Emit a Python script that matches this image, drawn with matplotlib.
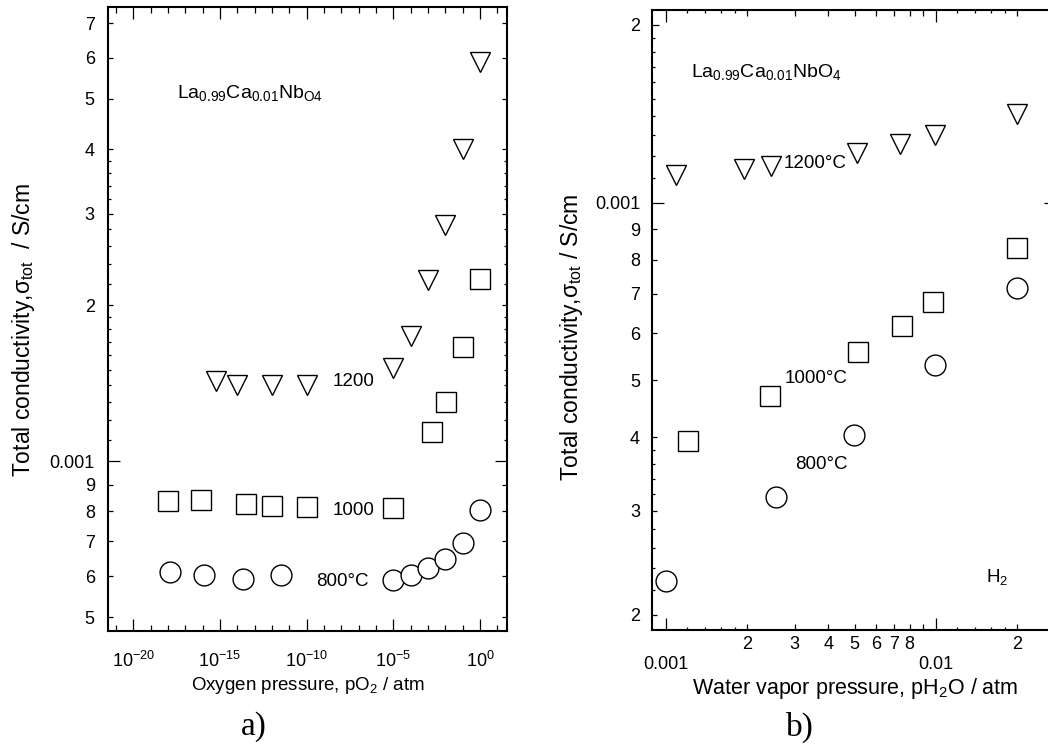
import matplotlib
matplotlib.use('Agg')
import matplotlib.pyplot as plt
from matplotlib.ticker import FixedLocator, FixedFormatter

plt.rcParams['font.family'] = ['Liberation Sans', 'DejaVu Sans']
plt.rcParams['mathtext.fontset'] = 'custom'
plt.rcParams['mathtext.rm'] = 'Liberation Sans'
plt.rcParams['mathtext.default'] = 'regular'
plt.rcParams['axes.unicode_minus'] = False

# ---- panel a: conductivity vs oxygen pressure ----
po2_1200 = [6.3e-16, 1e-14, 1e-12, 1e-10, 1e-5, 1e-4, 1e-3, 1e-2, 1e-1, 1.0]
sig_1200 = [1.43e-3, 1.40e-3, 1.40e-3, 1.40e-3, 1.51e-3, 1.74e-3, 2.24e-3, 2.86e-3, 4.0e-3, 5.88e-3]
po2_1000 = [1e-18, 7.9e-17, 3.2e-14, 1e-12, 1e-10, 1e-5, 1.7e-3, 1.1e-2, 1e-1, 1.0]
sig_1000 = [8.38e-4, 8.41e-4, 8.27e-4, 8.20e-4, 8.15e-4, 8.10e-4, 1.137e-3, 1.30e-3, 1.66e-3, 2.25e-3]
po2_800 = [1.26e-18, 1.26e-16, 2.0e-14, 3.2e-12, 1e-5, 1e-4, 1e-3, 1e-2, 1e-1, 1.0]
sig_800 = [6.10e-4, 6.03e-4, 5.93e-4, 6.02e-4, 5.89e-4, 6.04e-4, 6.22e-4, 6.46e-4, 6.94e-4, 8.04e-4]

# ---- panel b: conductivity vs water vapour pressure ----
ph2o_1200 = [1.09e-3, 1.94e-3, 2.46e-3, 5.1e-3, 7.4e-3, 9.9e-3, 2.0e-2]
sigw_1200 = [1.115e-3, 1.14e-3, 1.155e-3, 1.215e-3, 1.255e-3, 1.30e-3, 1.413e-3]
ph2o_1000 = [1.21e-3, 2.43e-3, 5.16e-3, 7.48e-3, 9.8e-3, 2.01e-2]
sigw_1000 = [3.94e-4, 4.70e-4, 5.59e-4, 6.18e-4, 6.79e-4, 8.36e-4]
ph2o_800 = [1.0e-3, 2.55e-3, 4.98e-3, 9.94e-3, 2.0e-2]
sigw_800 = [2.28e-4, 3.17e-4, 4.04e-4, 5.30e-4, 7.15e-4]

# tick layouts
a_xmajor = [1e-20, 1e-15, 1e-10, 1e-5, 1.0]
a_xlabels = ['$10^{-20}$', '$10^{-15}$', '$10^{-10}$', '$10^{-5}$', '$10^{0}$']
a_xminor = [10.0 ** k for k in range(-21, 2) if k % 5]
a_ymajor = [5e-4, 6e-4, 7e-4, 8e-4, 9e-4, 1e-3, 2e-3, 3e-3, 4e-3, 5e-3, 6e-3, 7e-3]
a_ylabels = ['5', '6', '7', '8', '9', '0.001', '2', '3', '4', '5', '6', '7']
b_ymajor = [2e-4, 3e-4, 4e-4, 5e-4, 6e-4, 7e-4, 8e-4, 9e-4, 1e-3, 2e-3]
b_ylabels = ['2', '3', '4', '5', '6', '7', '8', '9', '0.001', '2']
y_short = ([1e-3 + 1e-4 * i for i in range(1, 10)]
           + [2.2e-3, 2.4e-3, 2.6e-3, 2.8e-3, 3.2e-3, 3.4e-3, 3.6e-3, 3.8e-3])
b_yshort = ([1e-3 + 1e-4 * i for i in range(1, 10)]
            + [2.2e-4, 2.4e-4, 2.6e-4, 2.8e-4, 3.2e-4, 3.4e-4, 3.6e-4, 3.8e-4])
b_xmajor = [1e-3, 1e-2]
b_xmajor_labels = ['0.001', '0.01']
b_xminor = [2e-3, 3e-3, 4e-3, 5e-3, 6e-3, 7e-3, 8e-3, 9e-3, 2e-2]
b_xminor_labels = ['2', '3', '4', '5', '6', '7', '8', '', '2']
b_xshort = [1.2e-3, 1.4e-3, 1.6e-3, 1.8e-3, 1.2e-2, 1.4e-2, 1.6e-2, 1.8e-2]

mk = dict(linestyle='none', markersize=15, markerfacecolor='white',
          markeredgecolor='black', markeredgewidth=1.0)


def tick_len(ticks, locs, wanted, length):
    for t, loc in zip(ticks, locs):
        if any(abs(loc - w) / w < 1e-6 for w in wanted):
            t.tick1line.set_markersize(length)
            t.tick2line.set_markersize(length)


fig = plt.figure(figsize=(10.48, 7.45), dpi=100)
W, H = 1048.0, 745.0
ax1 = fig.add_axes([108 / W, 1 - 631 / H, 399 / W, 624 / H])
ax2 = fig.add_axes([652.3 / W, 1 - 630 / H, 403.7 / W, 620 / H])

for ax in (ax1, ax2):
    ax.set_xscale('log')
    ax.set_yscale('log')
    for s in ax.spines.values():
        s.set_linewidth(1.5)

# panel a
ax1.plot(po2_800, sig_800, marker='o', **mk)
ax1.plot(po2_1000, sig_1000, marker='s', **mk)
ax1.plot(po2_1200, sig_1200, marker='v', **mk)
ax1.set_xlim(10 ** -21.46, 10 ** 1.56)
ax1.set_ylim(4.70e-4, 7.52e-3)

ax1.xaxis.set_major_locator(FixedLocator(a_xmajor))
ax1.xaxis.set_major_formatter(FixedFormatter(a_xlabels))
ax1.xaxis.set_minor_locator(FixedLocator(a_xminor))
ax1.xaxis.set_minor_formatter(FixedFormatter([''] * len(a_xminor)))
ax1.yaxis.set_major_locator(FixedLocator(a_ymajor))
ax1.yaxis.set_major_formatter(FixedFormatter(a_ylabels))
ax1.yaxis.set_minor_locator(FixedLocator(y_short))
ax1.yaxis.set_minor_formatter(FixedFormatter([''] * len(y_short)))

ax1.tick_params(which='both', direction='in', top=True, right=True, width=0.9, labelsize=13)
ax1.tick_params(axis='x', which='major', length=8.6, pad=14)
ax1.tick_params(axis='x', which='minor', length=4.3)
ax1.tick_params(axis='y', which='major', length=3.8, pad=9.5)
ax1.tick_params(axis='y', which='minor', length=2.2)
tick_len(ax1.yaxis.get_major_ticks(), ax1.yaxis.get_majorticklocs(), [1e-3], 8.6)

ax1.set_xlabel('Oxygen pressure, pO$_2$ / atm', fontsize=13.5, va='center')
ax1.xaxis.set_label_coords(0.5, -0.088)
ax1.set_ylabel('Total conductivity,σ$_{tot}$  / S/cm', fontsize=16.5, va='center')
ax1.yaxis.set_label_coords(-0.213, 0.482)

ax1.text(0.173, 0.854, 'La$_{0.99}$Ca$_{0.01}$Nb$_{O4}$', transform=ax1.transAxes,
         fontsize=14, va='baseline')
ax1.text(0.564, 0.393, '1200', transform=ax1.transAxes, fontsize=13.5, va='baseline')
ax1.text(0.564, 0.186, '1000', transform=ax1.transAxes, fontsize=13.5, va='baseline')
ax1.text(0.521, 0.072, '800°C', transform=ax1.transAxes, fontsize=13.5, va='baseline')

# panel b
ax2.plot(ph2o_800, sigw_800, marker='o', **mk)
ax2.plot(ph2o_1000, sigw_1000, marker='s', **mk)
ax2.plot(ph2o_1200, sigw_1200, marker='v', **mk)
ax2.set_xlim(10 ** -3.0508, 10 ** -1.554)
ax2.set_ylim(1.885e-4, 2.12e-3)

b_xminor_all = b_xminor + b_xshort
ax2.xaxis.set_major_locator(FixedLocator(b_xmajor))
ax2.xaxis.set_major_formatter(FixedFormatter(b_xmajor_labels))
ax2.xaxis.set_minor_locator(FixedLocator(b_xminor_all))
ax2.xaxis.set_minor_formatter(FixedFormatter(b_xminor_labels + [''] * len(b_xshort)))
ax2.yaxis.set_major_locator(FixedLocator(b_ymajor))
ax2.yaxis.set_major_formatter(FixedFormatter(b_ylabels))
ax2.yaxis.set_minor_locator(FixedLocator(b_yshort))
ax2.yaxis.set_minor_formatter(FixedFormatter([''] * len(b_yshort)))

ax2.tick_params(which='both', direction='in', top=True, right=True, width=0.9, labelsize=13)
ax2.tick_params(axis='x', which='major', length=8.4, pad=19)
ax2.tick_params(axis='x', which='minor', length=4.3, pad=4.5)
ax2.tick_params(axis='y', which='major', length=3.8, pad=8.8)
ax2.tick_params(axis='y', which='minor', length=2.3)
tick_len(ax2.xaxis.get_minor_ticks(), ax2.xaxis.get_minorticklocs(), b_xshort, 2.3)
tick_len(ax2.yaxis.get_major_ticks(), ax2.yaxis.get_majorticklocs(), [1e-3], 8.4)
tick_len(ax2.yaxis.get_major_ticks(), ax2.yaxis.get_majorticklocs(), [2e-3], 4.8)

ax2.set_xlabel('Water vapor pressure, pH$_2$O / atm', fontsize=15.5, va='center')
ax2.xaxis.set_label_coords(0.502, -0.094)
ax2.set_ylabel('Total conductivity,σ$_{tot}$ / S/cm', fontsize=16.5, va='center')
ax2.yaxis.set_label_coords(-0.199, 0.472)

ax2.text(0.096, 0.892, 'La$_{0.99}$Ca$_{0.01}$NbO$_4$', transform=ax2.transAxes,
         fontsize=14, va='baseline')
ax2.text(0.326, 0.745, '1200°C', transform=ax2.transAxes, fontsize=13.5, va='baseline')
ax2.text(0.328, 0.398, '1000°C', transform=ax2.transAxes, fontsize=13.5, va='baseline')
ax2.text(0.355, 0.259, '800°C', transform=ax2.transAxes, fontsize=13.5, va='baseline')
ax2.text(0.827, 0.078, 'H$_2$', transform=ax2.transAxes, fontsize=13.5, va='baseline')

fig.text(254 / W, 1 - 727 / H, 'a)', family='Liberation Serif', fontsize=24,
         ha='center', va='center')
fig.text(800 / W, 1 - 727 / H, 'b)', family='Liberation Serif', fontsize=24,
         ha='center', va='center')

fig.savefig('out.png', dpi=100)
